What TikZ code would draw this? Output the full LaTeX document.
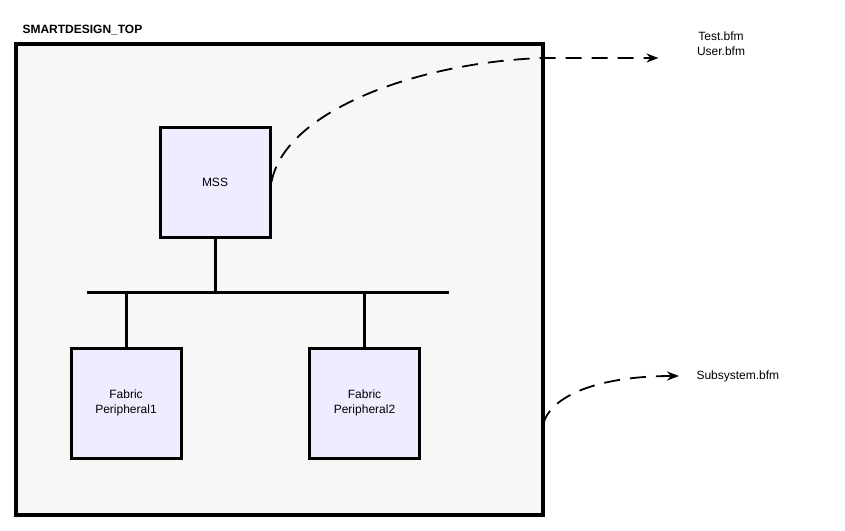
\documentclass[tikz,border=0pt]{standalone}
\usepackage{fontspec}
\setmainfont{Liberation Sans}
\usetikzlibrary{arrows.meta}
\begin{document}
\begin{tikzpicture}[x=1pt,y=-1pt,
  blk/.style={draw=black,line width=3pt,fill=blue!7!white,minimum width=110pt,minimum height=110pt,align=center,font=\fontsize{12}{15}\selectfont},
  wire/.style={line width=3pt},
  flow/.style={line width=1.8pt,dash pattern=on 16pt off 10pt,-{Stealth[length=12pt,width=9pt]}},
  lbl/.style={font=\fontsize{12}{15}\selectfont,align=center}]
\useasboundingbox (0,0) rectangle (845,530);
\node[font=\bfseries\fontsize{12}{14}\selectfont,anchor=west] (title) at (19,30) {SMARTDESIGN\_TOP};
\draw[line width=3.2pt,fill=black!3] (16,44) rectangle (543,515);
\coordinate (topR) at (543,58);
\coordinate (botR) at (543,425);
\node[blk] (mss) at (215,182) {MSS};
\node[blk] (fp1) at (126,403) {Fabric\\Peripheral1};
\node[blk] (fp2) at (364.5,403) {Fabric\\Peripheral2};
\coordinate (busL) at (87,292);
\coordinate (busR) at (449,292);
\draw[wire] (busL) -- (busR);
\draw[wire] (mss.south) -- (mss.south |- busL);
\draw[wire] (fp1.north) -- (fp1.north |- busL);
\draw[wire] (fp2.north) -- (fp2.north |- busL);
\node[lbl] (bfm1) at (721,44) {Test.bfm\\User.bfm};
\node[lbl,anchor=west] (bfm2) at (693,376) {Subsystem.bfm};
\draw[flow,shorten >=35pt] (mss.east) .. controls (285,110) and (420,62) .. (topR) -- (bfm1.west |- topR);
\draw[flow,shorten >=14pt] (botR) .. controls (550,395) and (600,376) .. (bfm2.west);
\end{tikzpicture}
\end{document}
